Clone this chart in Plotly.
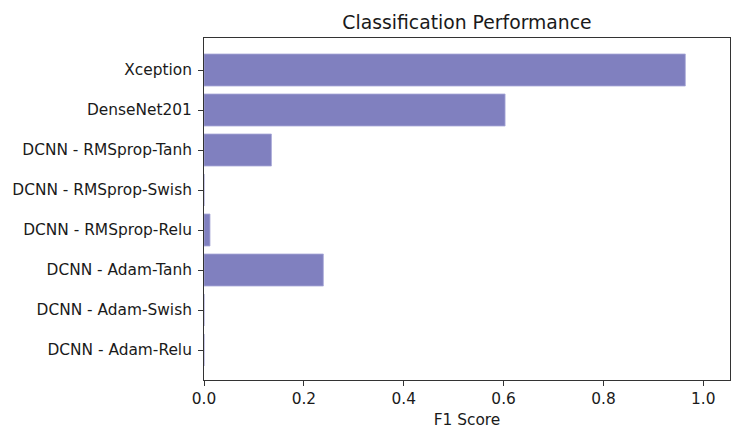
import plotly.graph_objects as go

# Models, top to bottom
models = [
    "Xception",
    "DenseNet201",
    "DCNN - RMSprop-Tanh",
    "DCNN - RMSprop-Swish",
    "DCNN - RMSprop-Relu",
    "DCNN - Adam-Tanh",
    "DCNN - Adam-Swish",
    "DCNN - Adam-Relu",
]
f1_scores = [0.964, 0.603, 0.135, 0.0, 0.012, 0.239, 0.0, 0.0]
x_ticks = [0.0, 0.2, 0.4, 0.6, 0.8, 1.0]

font_family = "DejaVu Sans, sans-serif"
text_color = "#1a1a1a"

fig = go.Figure(
    go.Bar(
        x=f1_scores,
        y=models,
        orientation="h",
        width=0.8,
        marker=dict(color="#8080bf", line=dict(color="#a8a8d8", width=0.8)),
        hoverinfo="x+y",
    )
)

fig.update_layout(
    width=731,
    height=430,
    margin=dict(l=204, r=1, t=38, b=50),
    paper_bgcolor="white",
    plot_bgcolor="white",
    showlegend=False,
    font=dict(family=font_family, size=15.4, color=text_color),
    title=dict(
        text="Classification Performance",
        x=(204 + 730) / 2 / 731,
        xanchor="center",
        y=1 - 22 / 430,
        yanchor="middle",
        font=dict(family=font_family, size=18.8, color=text_color),
    ),
)

fig.update_xaxes(
    range=[0, 1.0535],
    tickvals=x_ticks,
    ticktext=[f"{v:.1f}" for v in x_ticks],
    ticks="outside",
    ticklen=5,
    tickcolor="#333",
    showgrid=False,
    zeroline=False,
    showline=True,
    linecolor="#333",
    linewidth=1,
    mirror=True,
    title=dict(text="F1 Score", standoff=6, font=dict(size=15.4)),
)

fig.update_yaxes(
    type="category",
    categoryorder="array",
    categoryarray=models,
    range=[7.75, -0.8],
    ticks="outside",
    ticklen=5,
    tickcolor="#333",
    ticklabelstandoff=3,
    showgrid=False,
    zeroline=False,
    showline=True,
    linecolor="#333",
    linewidth=1,
    mirror=True,
)

fig.write_html("out.html")
